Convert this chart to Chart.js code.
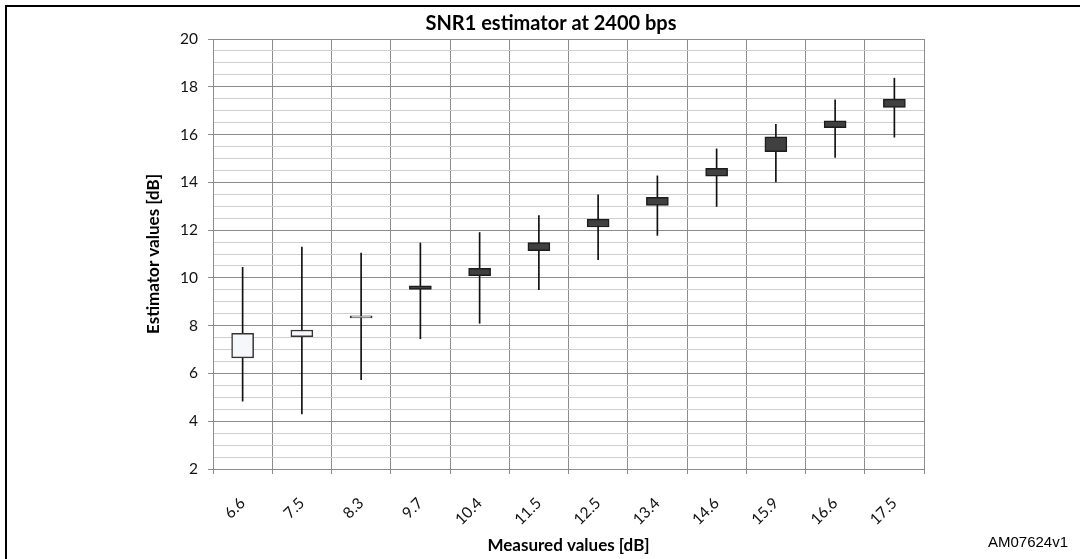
<!DOCTYPE html>
<html>
<head>
<meta charset="utf-8">
<script src="https://cdn.jsdelivr.net/npm/chart.js@4.4.1/dist/chart.umd.min.js"></script>
<style>
  html, body { margin: 0; padding: 0; background: #ffffff; }
  #wrap { width: 1080px; height: 559px; position: relative; }
</style>
</head>
<body>
<div id="wrap"><canvas id="c" width="1080" height="559"></canvas></div>
<script>
// ---- data ----
const categories = ['6.6','7.5','8.3','9.7','10.4','11.5','12.5','13.4','14.6','15.9','16.6','17.5'];
const wickLow    = [4.84, 4.31, 5.74, 7.45, 8.10, 9.51, 10.76, 11.78, 12.99, 14.02, 15.04, 15.89];
const wickHigh   = [10.44, 11.29, 11.04, 11.46, 11.90, 12.61, 13.48, 14.27, 15.40, 16.43, 17.45, 18.36];
const boxLow     = [6.65, 7.54, 8.32, 9.52, 10.09, 11.14, 12.13, 13.03, 14.26, 15.28, 16.29, 17.14];
const boxHigh    = [7.68, 7.82, 8.41, 9.67, 10.40, 11.48, 12.46, 13.37, 14.59, 15.90, 16.57, 17.48];
const lightBox   = [true, true, true, false, false, false, false, false, false, false, false, false];
const yTicksMajor = [2, 4, 6, 8, 10, 12, 14, 16, 18, 20];

const chartTitle = 'SNR1 estimator at 2400 bps';
const xTitle = 'Measured values [dB]';
const yTitle = 'Estimator values [dB]';
const figId = 'AM07624v1';

const wickData = categories.map((c, i) => [wickLow[i], wickHigh[i]]);
const boxData  = categories.map((c, i) => [boxLow[i], boxHigh[i]]);

const decor = {
  id: 'decor',
  afterDraw(chart) {
    const ctx = chart.ctx;
    ctx.save();
    // outer frame (left and top)
    ctx.fillStyle = '#000';
    ctx.fillRect(5, 5, 1075, 2);
    ctx.fillRect(5, 5, 2, 554);
    // title
    ctx.fillStyle = '#000';
    ctx.font = 'bold 20px Lato';
    ctx.textAlign = 'center';
    ctx.textBaseline = 'alphabetic';
    ctx.fillText(chartTitle, 551, 30);
    // figure id
    ctx.font = '15px "Liberation Sans"';
    ctx.textAlign = 'left';
    ctx.fillText(figId, 988, 547);
    ctx.restore();
  }
};

new Chart(document.getElementById('c'), {
  type: 'bar',
  data: {
    labels: categories,
    datasets: [
      {
        label: 'range',
        data: wickData,
        backgroundColor: '#111',
        borderWidth: 0,
        barThickness: 1,
        grouped: false,
        order: 2
      },
      {
        label: 'box',
        data: boxData,
        backgroundColor: lightBox.map(l => l ? '#f6f7fa' : '#404040'),
        borderColor: lightBox.map(l => l ? '#333' : '#1c1c1c'),
        borderWidth: 1.5,
        borderSkipped: false,
        barThickness: 22,
        grouped: false,
        order: 1
      }
    ]
  },
  options: {
    responsive: false,
    animation: false,
    devicePixelRatio: 1,
    layout: { padding: { left: 143, right: 156, top: 39, bottom: 3 } },
    plugins: {
      legend: { display: false },
      tooltip: { enabled: false },
      title: { display: false }
    },
    scales: {
      x: {
        type: 'category',
        offset: true,
        afterFit(s) { s.height = 87; },
        grid: { offset: true, color: '#8c8c8c', tickLength: 5, lineWidth: 1 },
        border: { color: '#8c8c8c' },
        ticks: {
          minRotation: 45, maxRotation: 45, padding: 20,
          color: '#111', font: { family: 'Lato', size: 15.5 }
        },
        title: {
          display: true, text: xTitle, color: '#000',
          font: { family: 'Lato', size: 17, weight: 'bold' },
          padding: { top: 0, bottom: 0 }
        }
      },
      y: {
        min: 2, max: 20,
        afterFit(s) { s.width = 213 - 143; },
        afterBuildTicks(s) {
          const t = [];
          for (let v = 2; v <= 20.0001; v += 0.5) t.push({ value: Math.round(v * 2) / 2 });
          s.ticks = t;
        },
        ticks: {
          autoSkip: false, padding: 10, color: '#111',
          font: { family: 'Lato', size: 15.5 },
          callback: (v) => yTicksMajor.includes(v) ? String(v) : ''
        },
        grid: {
          color: (c) => (c.tick && yTicksMajor.includes(c.tick.value)) ? '#8c8c8c' : '#cfcfcf',
          tickColor: (c) => (c.tick && yTicksMajor.includes(c.tick.value)) ? '#8c8c8c' : 'rgba(0,0,0,0)',
          tickLength: 5, lineWidth: 1
        },
        border: { color: '#8c8c8c' },
        title: {
          display: true, text: yTitle, color: '#000',
          font: { family: 'Lato', size: 17, weight: 'bold' },
          padding: { top: 0, bottom: 0 }
        }
      }
    }
  },
  plugins: [decor]
});
</script>
</body>
</html>
